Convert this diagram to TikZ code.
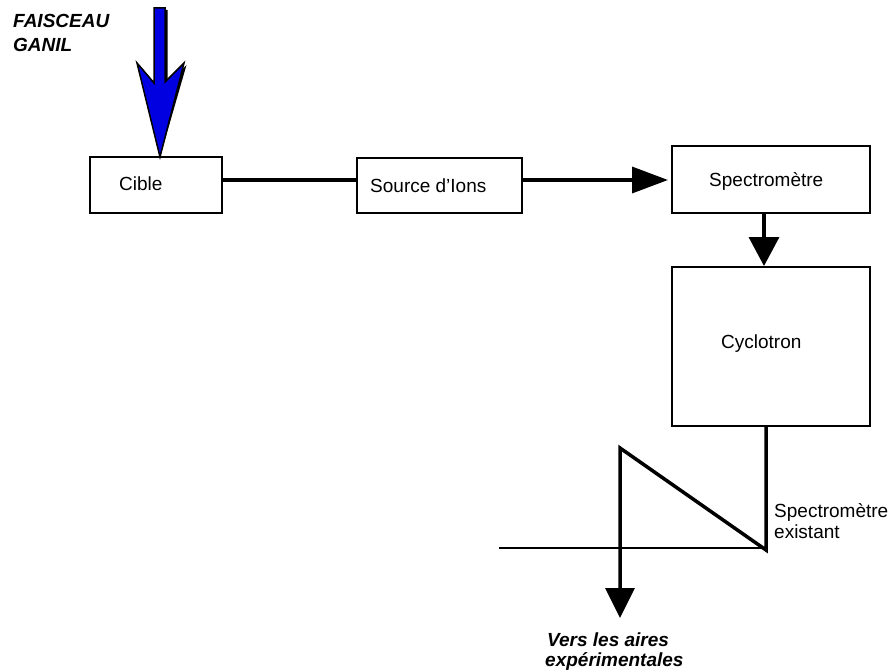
\documentclass[tikz,border=0pt]{standalone}
\usepackage{fontspec}
\setmainfont{Liberation Sans}
\usetikzlibrary{arrows.meta}
\definecolor{beamblue}{RGB}{0,0,225}
\begin{document}
\begin{tikzpicture}[x=1pt,y=-1pt,
  box/.style={draw,line width=2pt,inner sep=0pt},
  lbl/.style={anchor=base west,inner sep=0pt,font=\fontsize{19}{21}\selectfont},
  note/.style={lbl,font=\fontsize{19}{21}\selectfont\bfseries\itshape},
  conn/.style={line width=3.5pt},
  thin/.style={line width=1.8pt},
  bighead/.style={-{Triangle[length=36pt,width=26pt]}},
  downhead/.style={-{Triangle[length=29pt,width=30pt]}}]
\useasboundingbox (0,0) rectangle (894,671);

% boxes of the chain
\node[box,minimum width=132pt,minimum height=56pt] (cible) at (156,185) {};
\node[box,minimum width=165pt,minimum height=55pt] (source) at (439.5,185.5) {};
\node[box,minimum width=198pt,minimum height=67pt] (spec) at (771,179.5) {};
\node[box,minimum width=198pt,minimum height=159pt] (cyclo) at (771,346.5) {};

% box texts
\node[lbl] (cibleT) at (119,191) {Cible};
\node[lbl] (sourceT) at (370,193) {Source d’Ions};
\node[lbl] (specT) at (709,187) {Spectromètre};
\node[lbl] (cycloT) at (721,348) {Cyclotron};

% free labels
\node[note] (fais1) at (13,28) {FAISCEAU};
\node[note] (fais2) at (13,52) {GANIL};
\node[lbl] (exist1) at (774,517) {Spectromètre};
\node[lbl] (exist2) at (774,538) {existant};
\node[note] (vers1) at (547,646) {Vers les aires};
\node[note] (vers2) at (545,666) {expérimentales};

% incoming beam arrow with its shadow
\coordinate (beamtip) at (160,157);
\begin{scope}[shift={(2.5,2)}]
  \fill[black] (154,8) -- (165,8) -- (165,82) -- (184,63) -- (beamtip)
    -- (137,63) -- (154,83) -- cycle;
\end{scope}
\filldraw[fill=beamblue,draw=black,line width=1.5pt,line join=miter]
  (154,8) -- (165,8) -- (165,82) -- (184,63) -- (beamtip)
  -- (137,63) -- (154,83) -- cycle;

% connectors
\coordinate (rowY) at (0,180);
\draw[conn] (cible.east |- rowY) -- (source.west |- rowY);
\draw[conn,bighead,shorten >=3pt] (source.east |- rowY) -- (spec.west |- rowY);
\draw[conn,downhead] ([xshift=-7pt]spec.south) -- ([xshift=-7pt]cyclo.north);

% existing spectrometer: bend down to the experimental areas
\coordinate (corner) at (766,550);
\coordinate (apex) at (620,448);
\coordinate (out) at (620,618);
\coordinate (hleft) at (499,548);
\draw[thin] (hleft) -- (corner |- hleft);
\draw[conn,line join=miter,downhead,-{Triangle[length=30pt,width=29pt]}]
  (cyclo.south -| corner) -- (corner) -- (apex) -- (out);
\end{tikzpicture}
\end{document}
